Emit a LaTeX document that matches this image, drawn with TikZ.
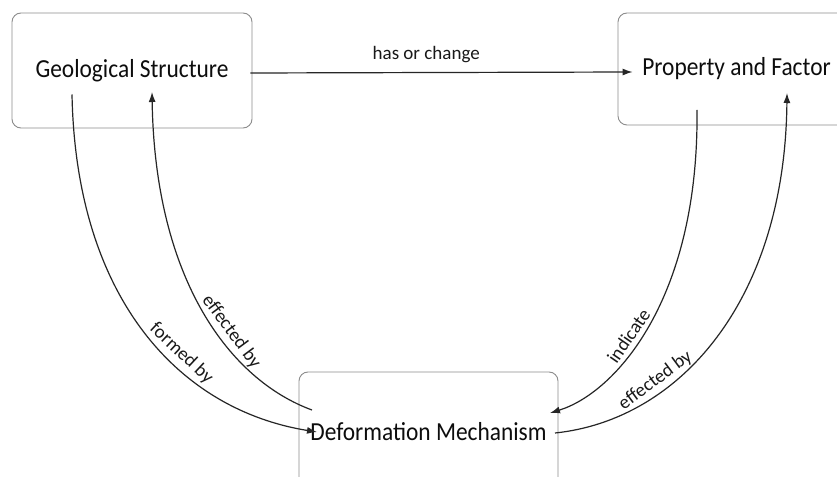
\documentclass[tikz,border=0pt]{standalone}
\usepackage{fontspec}
\setmainfont{Carlito}
\newfontfamily\boxfont{Carlito}[FakeStretch=0.9]
\usetikzlibrary{arrows.meta,calc}
\begin{document}
\begin{tikzpicture}[x=1bp,y=-1bp,
  box/.style={draw=black!45, line width=0.9bp, rounded corners=9bp,
    font=\boxfont\fontsize{26bp}{30bp}\selectfont, text=black!95, inner sep=0pt},
  arr/.style={draw=black!85, line width=1.2bp, -{Latex[length=10bp,width=7bp]}},
  rarr/.style={draw=black!85, line width=1.2bp, {Latex[length=10bp,width=7bp]}-},
  lab/.style={font=\fontsize{19bp}{22bp}\selectfont, text=black!90, sloped, above, inner sep=4bp},
  toplab/.style={font=\fontsize{19bp}{22bp}\selectfont, text=black!90, inner sep=0pt}]
\clip (0,0) rectangle (837,477);
\fill[white] (0,0) rectangle (837,477);
\node[box, minimum width=240bp, minimum height=115bp] (geo) at (132,70.5) {Geological Structure};
\node[box, minimum width=237bp, minimum height=112bp] (prop) at (736.5,69) {Property and Factor};
\node[box, minimum width=259bp, minimum height=120bp] (def) at (428.5,432) {Deformation Mechanism};
% has or change
\draw[arr] ($(geo.east)+(-2,2.5)$) -- ($(prop.west)+(15,3)$)
  node[toplab, pos=0.46, above=9bp] {has or change};
% formed by
\draw[arr] ($(geo.center)+(-60,24)$) .. controls +(4,205) and +(-137,-22) ..
  ($(def.center)+(-111.5,0)$) node[lab, pos=0.6] {formed by};
% effected by (left)
\draw[rarr] ($(geo.center)+(20,21.5)$) .. controls +(3,188) and +(-82,-30) ..
  ($(def.center)+(-116.5,-22)$) node[lab, pos=0.6] {effected by};
% indicate
\draw[rarr] ($(def.center)+(121.5,-19)$) .. controls +(65,-20) and +(2,190) ..
  ($(prop.center)+(-39.5,41)$) node[lab, pos=0.44] {indicate};
% effected by (right)
\draw[arr] ($(def.center)+(126.5,1)$) .. controls +(125,-13) and +(-2,207) ..
  ($(prop.center)+(50.5,24)$) node[lab, pos=0.31] {effected by};
\end{tikzpicture}
\end{document}
